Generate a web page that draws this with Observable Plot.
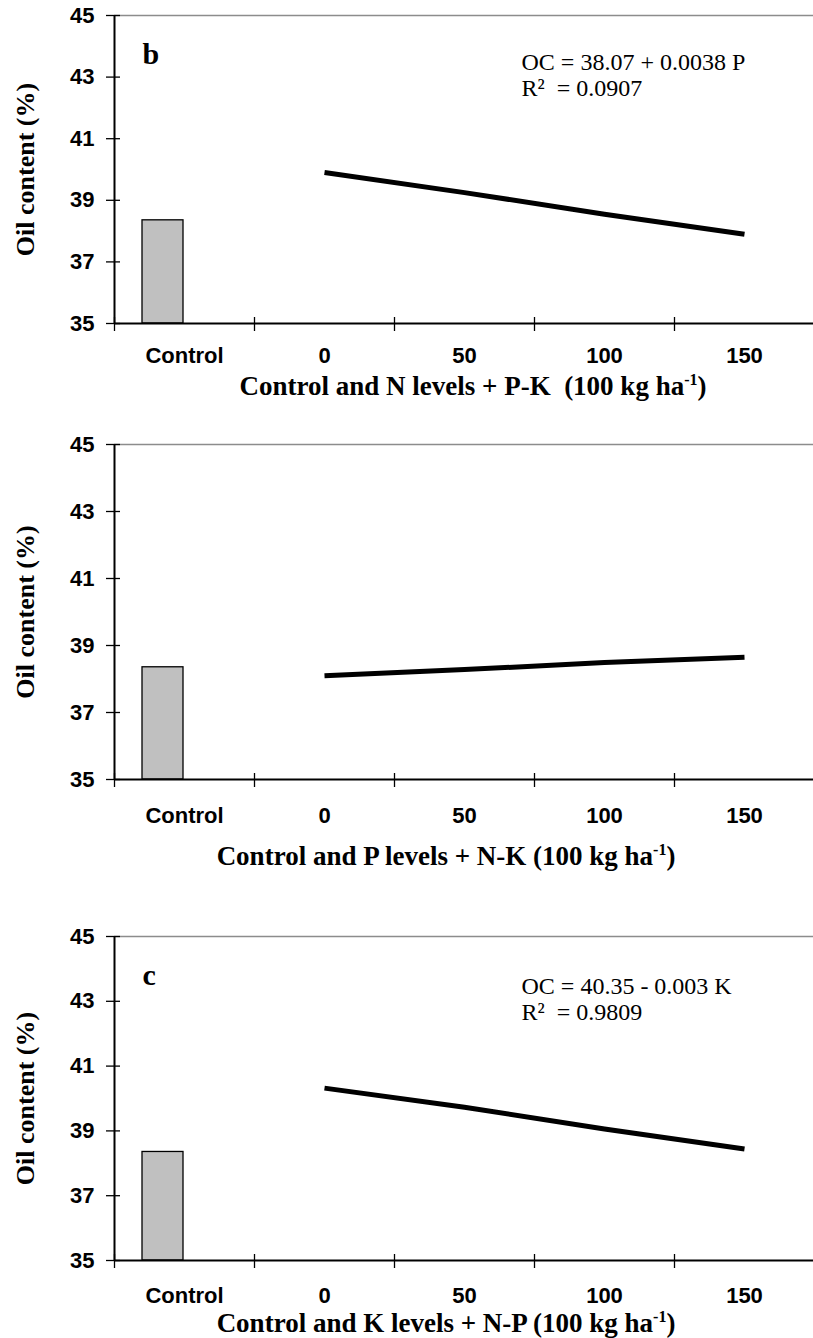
<!DOCTYPE html>
<html><head><meta charset="utf-8">
<script src="https://cdn.jsdelivr.net/npm/d3@7"></script>
<script src="https://cdn.jsdelivr.net/npm/@observablehq/plot@0.6"></script>
<style>
body{margin:0;background:#fff;}
#chart{width:813px;height:1338px;overflow:hidden;position:relative;}
#chart svg{display:block;overflow:visible;}
</style></head><body><div id="chart"></div>
<script>
// ---- data ----
const categories = ["Control", "0", "50", "100", "150"];
const levels = ["0", "50", "100", "150"];
const controlOil = [38.35, 38.35, 38.35];
const nLevelOil = [39.9, 39.25, 38.55, 37.9];
const pLevelOil = [38.1, 38.28, 38.49, 38.65];
const kLevelOil = [40.32, 39.73, 39.06, 38.44];
const yTicks = [35, 37, 39, 41, 43, 45];
const panelLetters = ["b", "", "c"];
const eqLine1 = ["OC = 38.07 + 0.0038 P", "", "OC = 40.35 - 0.003 K"];
const eqLine2 = ["R\u00B2  = 0.0907", "", "R\u00B2  = 0.9809"];
const xTitleMain = ["Control and N levels + P-K  (100 kg ha", "Control and P levels + N-K (100 kg ha", "Control and K levels + N-P (100 kg ha"];
const yTitle = "Oil content (%)";

const series = [nLevelOil, pLevelOil, kLevelOil];

// ---- layout (pixels) ----
const layout = [
  {height: 405, top: 15, bottom: 82, labelPad: 24, titleX: 473, titleY: 395, eqDy: 54},
  {height: 475, top: 39, bottom: 101, labelPad: 28, titleX: 446, titleY: 460, eqDy: 54},
  {height: 458, top: 56, bottom: 78, labelPad: 27, titleX: 446, titleY: 452, eqDy: 57}
];

const SANS = "Liberation Sans, Arial, sans-serif";
const SERIF = "Liberation Serif, Times New Roman, serif";
const boundaries = [-0.5, 0.5, 1.5, 2.5, 3.5];

function panel(i) {
  const L = layout[i];
  const rows = levels.map((lv, j) => ({cat: lv, oil: series[i][j]}));
  const ctrl = [{cat: "Control", oil: controlOil[i]}];
  const idx = d => categories.indexOf(d.cat);
  const marks = [
    Plot.ruleY([45], {x1: -0.5, x2: 4.5, stroke: "#8c8c8c", strokeWidth: 1.5}),
    Plot.rectY(ctrl, {x1: d => idx(d) - 0.5, x2: d => idx(d) + 0.5, y1: 35, y2: "oil",
      insetLeft: 28, insetRight: 71, fill: "#c0c0c0", stroke: "#000", strokeWidth: 1.3}),
    Plot.line(rows, {x: idx, y: "oil", stroke: "#000", strokeWidth: 5, strokeLinecap: "butt"}),
    Plot.ruleX([-0.5], {y1: 35, y2: 45, stroke: "#000", strokeWidth: 2}),
    Plot.ruleY([35], {x1: -0.5, x2: 4.5, stroke: "#000", strokeWidth: 2}),
    Plot.ruleY(yTicks, {x1: -0.5, x2: -0.5, insetLeft: -8, insetRight: -6, stroke: "#000", strokeWidth: 1.3}),
    Plot.ruleX(boundaries, {y1: 35, y2: 35, insetTop: -6, insetBottom: -8, stroke: "#000", strokeWidth: 1.3}),
    Plot.axisY(yTicks, {tickSize: 0, tickPadding: 20, fontSize: 22, fontWeight: "bold", fontFamily: SANS, label: null}),
    Plot.axisX([0, 1, 2, 3, 4], {tickSize: 0, tickPadding: L.labelPad, tickFormat: k => categories[k],
      fontSize: 22, fontWeight: "bold", fontFamily: SANS, label: null}),
    Plot.text([yTitle], {frameAnchor: "left", dx: -89, rotate: -90, textAnchor: "middle",
      fontFamily: SERIF, fontWeight: "bold", fontSize: 26})
  ];
  if (panelLetters[i]) {
    marks.push(Plot.text([panelLetters[i]], {frameAnchor: "top-left", dx: 28, dy: 48, lineAnchor: "bottom",
      textAnchor: "start", fontFamily: SERIF, fontWeight: "bold", fontSize: 30}));
  }
  if (eqLine1[i]) {
    marks.push(Plot.text([eqLine1[i]], {frameAnchor: "top-left", dx: 407, dy: L.eqDy, lineAnchor: "bottom",
      textAnchor: "start", fontFamily: SERIF, fontSize: 24}));
    marks.push(Plot.text([eqLine2[i]], {frameAnchor: "top-left", dx: 407, dy: L.eqDy + 26, lineAnchor: "bottom",
      textAnchor: "start", fontFamily: SERIF, fontSize: 24}));
  }
  const svg = Plot.plot({
    width: 813,
    height: L.height,
    marginLeft: 114,
    marginRight: 0,
    marginTop: L.top,
    marginBottom: L.bottom,
    style: {fontFamily: SANS, background: "white", overflow: "visible"},
    x: {type: "linear", domain: [-0.5, 4.5], range: [114, 814], label: null},
    y: {domain: [35, 45], label: null},
    marks
  });
  const t = d3.select(svg).append("text")
    .attr("x", L.titleX).attr("y", L.titleY)
    .attr("text-anchor", "middle")
    .attr("font-family", SERIF).attr("font-weight", "bold").attr("font-size", 27)
    .attr("fill", "#000");
  t.append("tspan").text(xTitleMain[i]);
  t.append("tspan").attr("dy", -10).attr("font-size", 16).text("-1");
  t.append("tspan").attr("dy", 10).attr("font-size", 27).text(")");
  return svg;
}

const chart = document.getElementById("chart");
for (let i = 0; i < 3; i++) chart.appendChild(panel(i));
</script>
</body></html>
